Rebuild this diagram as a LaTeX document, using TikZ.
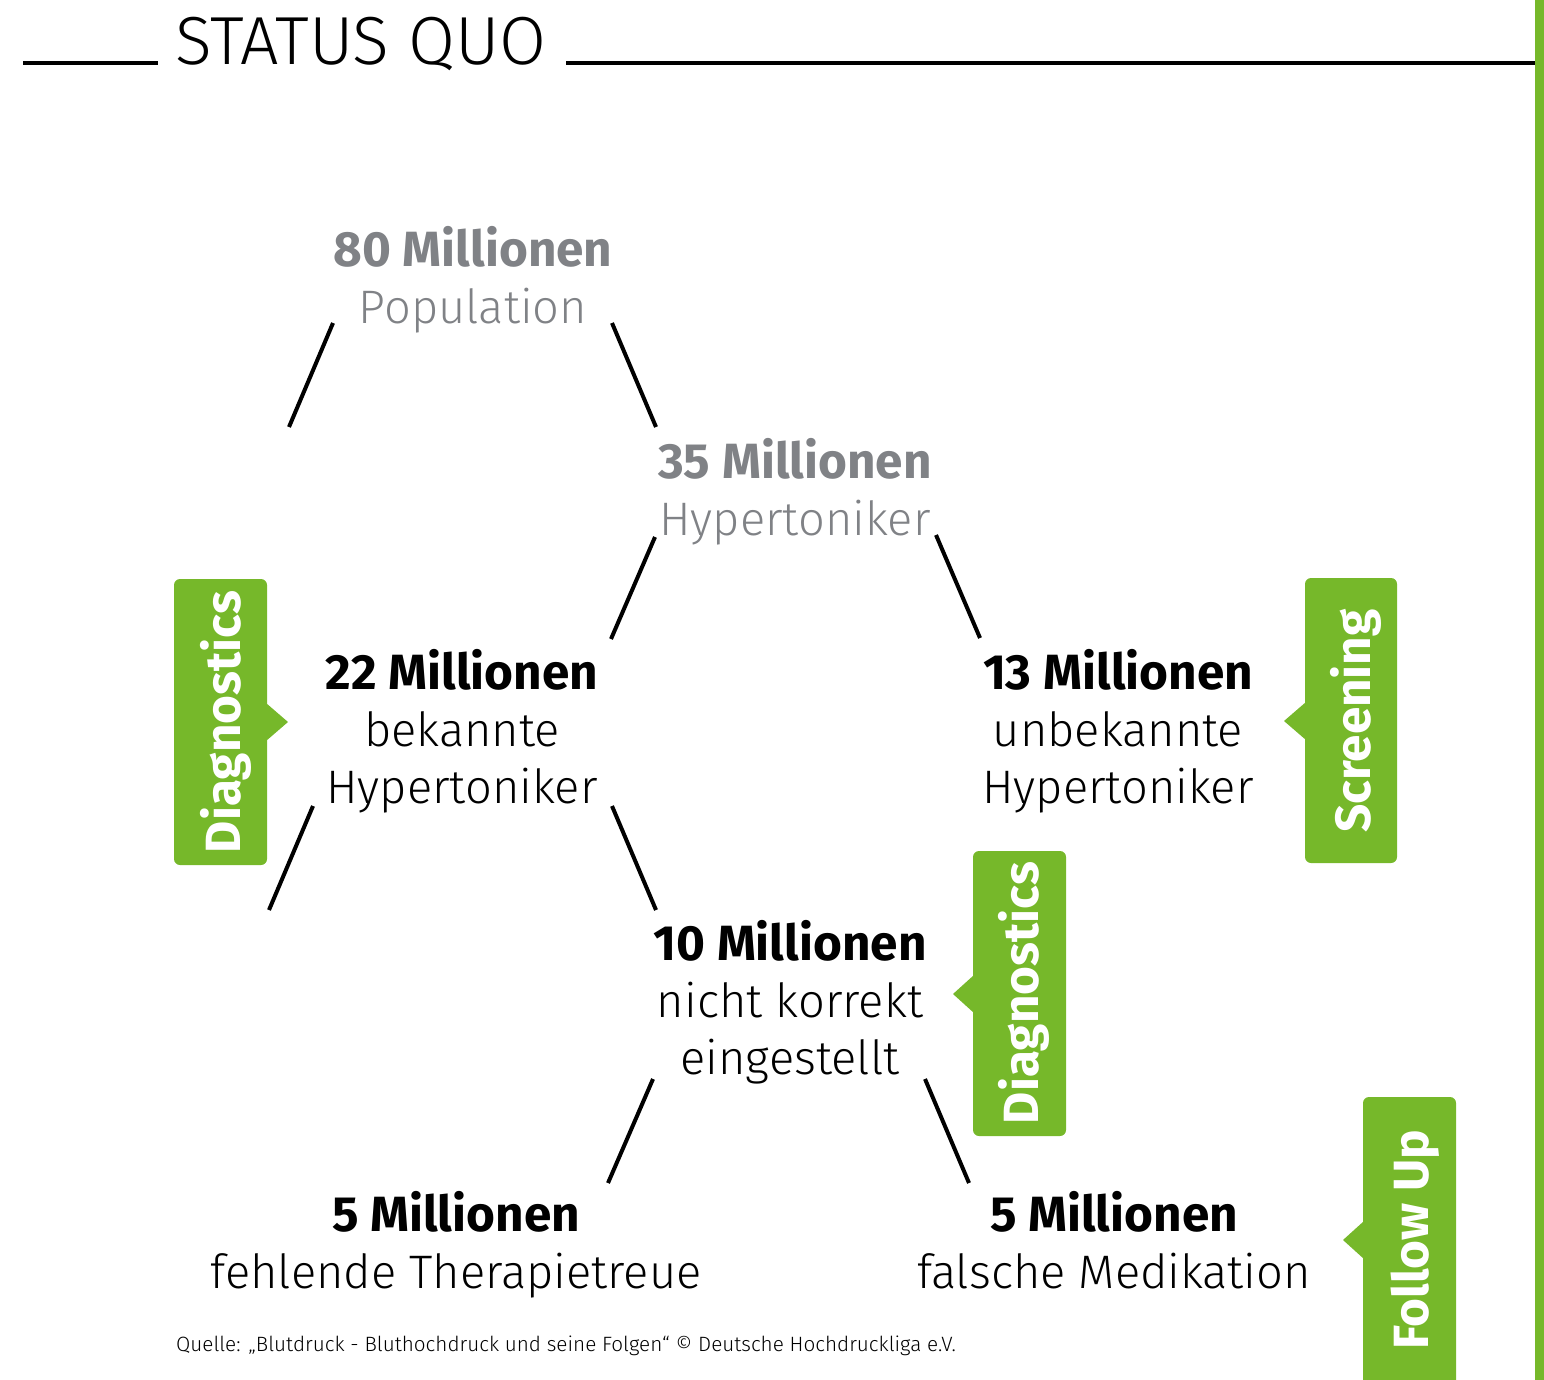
\documentclass[tikz,border=0pt]{standalone}
\usepackage{fontspec}
\setmainfont{Fira Sans}
\newfontfamily\lightfont{Fira Sans Light}
\definecolor{hgreen}{RGB}{118,184,42}
\definecolor{hgray}{RGB}{128,130,134}
\begin{document}
\begin{tikzpicture}[x=1pt,y=-1pt,
  num/.style={font=\fontsize{49.5}{52}\selectfont\bfseries, inner sep=0pt, anchor=base},
  desc/.style={font=\lightfont\fontsize{47}{50}\selectfont, inner sep=0pt, anchor=base},
  tag/.style={font=\fontsize{49.5}{52}\selectfont\bfseries, text=white, rotate=90, inner sep=0pt, anchor=base},
  link/.style={line width=4pt},
  tagbox/.style={fill=hgreen, rounded corners=6pt},
  rule/.style={line width=4.5pt}]
\useasboundingbox (0,0) rectangle (1544,1380);
% green edge bar
\fill[hgreen] (1535,0) rectangle (1544,1380);
% title
\node[inner sep=0pt, anchor=base west, font=\lightfont\fontsize{68}{72}\selectfont] (title) at (175,65) {\scalebox{1.0}[1]{STATUS QUO}};
\coordinate (tl1) at (23,63); \coordinate (tl2) at (158,63);
\coordinate (tr1) at (566,63); \coordinate (tr2) at (1535,63);
\draw[rule] (tl1) -- (tl2);
\draw[rule] (tr1) -- (tr2);
% text blocks
\node[num, text=hgray] (a1) at (473,266) {80 Millionen};
\node[desc, text=hgray] (a2) at (473,323) {Population};
\node[num, text=hgray] (b1) at (795,478) {35 Millionen};
\node[desc, text=hgray] (b2) at (795,535) {Hypertoniker};
\node[num] (c1) at (462,689) {22 Millionen};
\node[desc] (c2) at (462,746) {bekannte};
\node[desc] (c3) at (462,803) {Hypertoniker};
\node[num] (d1) at (1118,689) {13 Millionen};
\node[desc] (d2) at (1118,746) {unbekannte};
\node[desc] (d3) at (1118,803) {Hypertoniker};
\node[num] (e1) at (790,960) {10 Millionen};
\node[desc] (e2) at (790,1017) {nicht korrekt};
\node[desc] (e3) at (790,1074) {eingestellt};
\node[num] (f1) at (456,1231) {5 Millionen};
\node[desc] (f2) at (456,1288) {fehlende Therapietreue};
\node[num] (g1) at (1114,1231) {5 Millionen};
\node[desc] (g2) at (1114,1288) {falsche Medikation};
% connector end points
\coordinate (p1a) at (333,323); \coordinate (p1b) at (289,427);
\coordinate (p2a) at (612,323); \coordinate (p2b) at (656,427);
\coordinate (p3a) at (655,537); \coordinate (p3b) at (611,639);
\coordinate (p4a) at (936,535); \coordinate (p4b) at (980,638);
\coordinate (p5a) at (313,806); \coordinate (p5b) at (269,910);
\coordinate (p6a) at (612,806); \coordinate (p6b) at (656,910);
\coordinate (p7a) at (653,1079); \coordinate (p7b) at (608,1183);
\coordinate (p8a) at (925,1079); \coordinate (p8b) at (969,1183);
\foreach \i in {1,...,8} {\draw[link] (p\i a) -- (p\i b);}
% tags
\fill[tagbox] (174,579) rectangle (267,865);
\fill[hgreen] (266,703) -- (288,722) -- (266,741) -- cycle;
\node[tag] (t1) at (240,722) {Diagnostics};
\fill[tagbox] (1305,578) rectangle (1397,863);
\fill[hgreen] (1306,702) -- (1284,721) -- (1306,740) -- cycle;
\node[tag] (t2) at (1370,721) {Screening};
\fill[tagbox] (973,851) rectangle (1066,1136);
\fill[hgreen] (974,975) -- (953,994) -- (974,1013) -- cycle;
\node[tag] (t3) at (1038,993) {Diagnostics};
\fill[tagbox] (1363,1097) rectangle (1456,1400);
\fill[hgreen] (1364,1221) -- (1343,1240) -- (1364,1259) -- cycle;
\node[tag] (t4) at (1428,1240) {Follow Up};
% source
\node[inner sep=0pt, anchor=base west, font=\lightfont\fontsize{20.7}{24}\selectfont] (src) at (176,1351) {Quelle: „Blutdruck - Bluthochdruck und seine Folgen“ © Deutsche Hochdruckliga e.V.};
\end{tikzpicture}
\end{document}
